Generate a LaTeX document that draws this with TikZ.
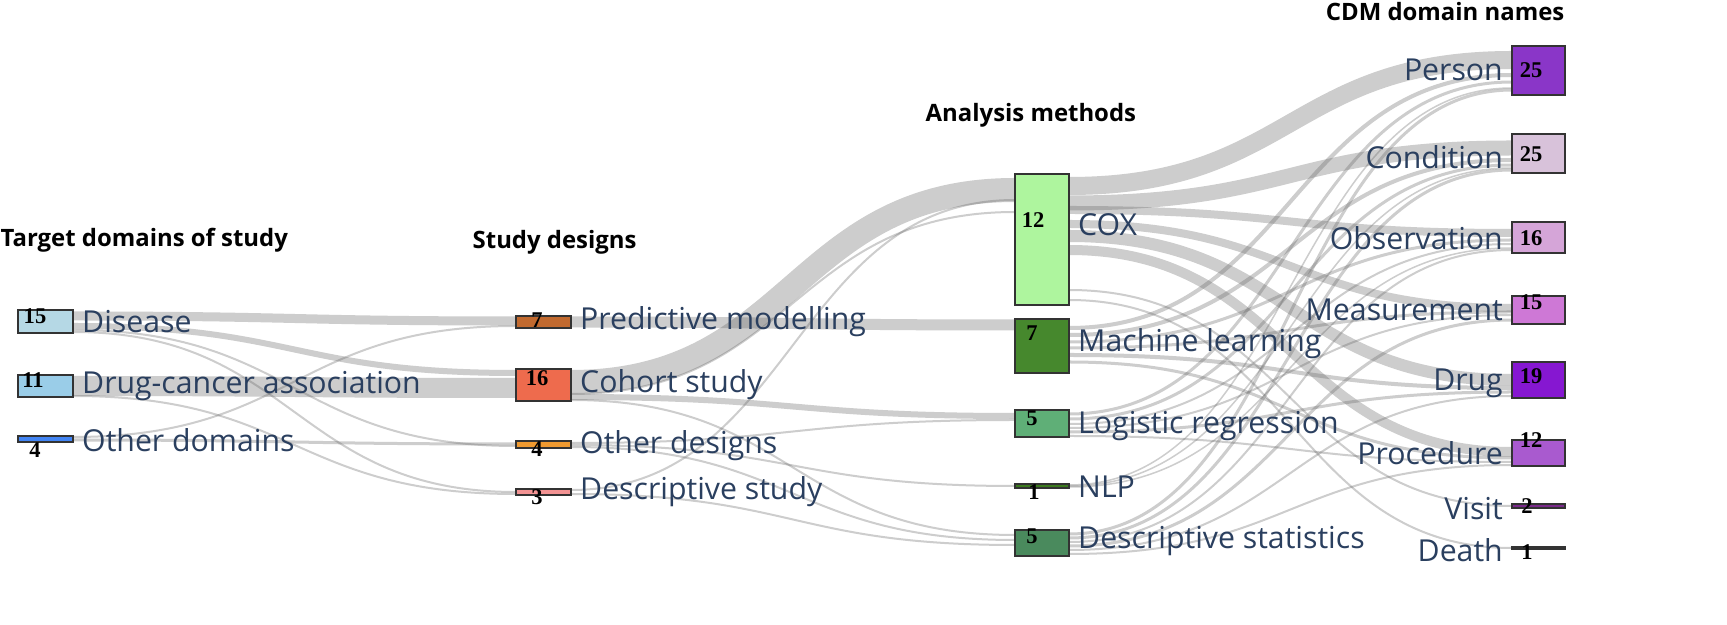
\documentclass[tikz,border=0pt]{standalone}
\usepackage{fontspec}
\setmainfont{Open Sans}
\newfontfamily\numfont{Liberation Serif}
\definecolor{labc}{HTML}{2A3F5F}
\definecolor{cDis}{HTML}{B5D8E5}
\definecolor{cDrg}{HTML}{9ACDE8}
\definecolor{cOdm}{HTML}{4285F4}
\definecolor{cPred}{HTML}{C26A2F}
\definecolor{cCoh}{HTML}{EE6B4D}
\definecolor{cOdes}{HTML}{F09A30}
\definecolor{cDst}{HTML}{F39393}
\definecolor{cCox}{HTML}{AEF59E}
\definecolor{cMl}{HTML}{46882D}
\definecolor{cLr}{HTML}{5FAF77}
\definecolor{cNlp}{HTML}{3C7A1E}
\definecolor{cDs}{HTML}{4A8A5D}
\definecolor{cPer}{HTML}{8A36C8}
\definecolor{cCon}{HTML}{D8C2DA}
\definecolor{cObs}{HTML}{D5A5D8}
\definecolor{cMea}{HTML}{CE78D6}
\definecolor{cDru}{HTML}{8617D1}
\definecolor{cPro}{HTML}{A95ACF}
\definecolor{cVis}{HTML}{7A2A8A}
\begin{document}
\begin{tikzpicture}[x=0.01cm,y=-0.01cm,
  box/.style={draw=black!80,line width=0.5pt,inner sep=0pt,outer sep=0pt,anchor=north west},
  lab/.style={text=labc,font=\fontsize{8.6}{9}\selectfont,inner sep=1pt},
  num/.style={font=\numfont\bfseries\fontsize{6.4}{7}\selectfont,inner sep=0pt},
  head/.style={font=\bfseries\fontsize{6.8}{8}\selectfont,inner sep=0pt},
  lk/.style={draw=black!60,draw opacity=0.33,line cap=butt}]
\useasboundingbox (0,0) rectangle (1727,625);
\newcommand{\lnk}[5]{\draw[lk,line width=#5*0.2845pt] (#1,#2) .. controls ({(#1+#3)/2},#2) and ({(#1+#3)/2},#4) .. (#3,#4);}
\newcommand{\bx}[6]{\node[box,fill=#2,minimum width=#5*0.01cm,minimum height=#6*0.01cm] (#1) at (#3,#4) {};}
% ---- links col1 -> col2
\lnk{73}{316}{516}{321}{9}
\lnk{73}{326}{516}{373}{6}
\lnk{73}{330}{516}{446}{2}
\lnk{73}{332}{516}{492}{2}
\lnk{73}{386}{516}{388}{20}
\lnk{73}{396}{516}{494}{2}
\lnk{73}{437}{516}{326}{2}
\lnk{73}{440}{516}{444}{3}
% ---- links col2 -> col3
\lnk{571}{322}{1015}{325}{11}
\lnk{571}{382}{1015}{190}{24}
\lnk{571}{394}{1015}{212}{2}
\lnk{571}{397}{1015}{416}{6}
\lnk{571}{400}{1015}{535}{2}
\lnk{571}{443}{1015}{420}{2}
\lnk{571}{445}{1015}{486}{2}
\lnk{571}{447}{1015}{540}{2}
\lnk{571}{490}{1015}{200}{2}
\lnk{571}{494}{1015}{545}{2}
% ---- links col3 -> col4
\lnk{1069}{186}{1512}{60}{18}
\lnk{1069}{203}{1512}{148}{15}
\lnk{1069}{210}{1512}{233}{8}
\lnk{1069}{224}{1512}{308}{8}
\lnk{1069}{236}{1512}{380}{12}
\lnk{1069}{250}{1512}{452}{10}
\lnk{1069}{290}{1512}{506}{2}
\lnk{1069}{300}{1512}{548}{2}
\lnk{1069}{328}{1512}{75}{4}
\lnk{1069}{335}{1512}{160}{4}
\lnk{1069}{342}{1512}{240}{3}
\lnk{1069}{348}{1512}{312}{3}
\lnk{1069}{355}{1512}{388}{4}
\lnk{1069}{362}{1512}{458}{3}
\lnk{1069}{414}{1512}{82}{3}
\lnk{1069}{419}{1512}{165}{3}
\lnk{1069}{424}{1512}{244}{2}
\lnk{1069}{428}{1512}{315}{2}
\lnk{1069}{432}{1512}{392}{3}
\lnk{1069}{436}{1512}{462}{2}
\lnk{1069}{485}{1512}{88}{1.5}
\lnk{1069}{486}{1512}{168}{1.5}
\lnk{1069}{487}{1512}{248}{1.5}
\lnk{1069}{534}{1512}{90}{3}
\lnk{1069}{538}{1512}{170}{3}
\lnk{1069}{542}{1512}{250}{2}
\lnk{1069}{546}{1512}{320}{3}
\lnk{1069}{550}{1512}{396}{2}
\lnk{1069}{554}{1512}{465}{2}
% ---- nodes
\bx{dis}{cDis}{18}{310}{55}{23}
\bx{drg}{cDrg}{18}{375}{55}{22}
\bx{odm}{cOdm}{18}{436}{55}{6}
\bx{pred}{cPred}{516}{316}{55}{12}
\bx{coh}{cCoh}{516}{369}{55}{32}
\bx{odes}{cOdes}{516}{441}{55}{7}
\bx{dst}{cDst}{516}{489}{55}{6}
\bx{cox}{cCox}{1015}{174}{54}{131}
\bx{ml}{cMl}{1015}{319}{54}{54}
\bx{lr}{cLr}{1015}{410}{54}{27}
\bx{nlp}{cNlp}{1015}{484}{54}{4}
\bx{ds}{cDs}{1015}{530}{54}{26}
\bx{per}{cPer}{1512}{46}{53}{49}
\bx{con}{cCon}{1512}{134}{53}{39}
\bx{obs}{cObs}{1512}{222}{53}{31}
\bx{mea}{cMea}{1512}{296}{53}{28}
\bx{dru}{cDru}{1512}{362}{53}{36}
\bx{pro}{cPro}{1512}{440}{53}{26}
\bx{vis}{cVis}{1512}{504}{53}{4}
\bx{dea}{black}{1512}{547}{53}{2}
% numbers
\node[num] at (35,316) {15};
\node[num] at (33,380) {11};
\node[num] at (35,450) {4};
\node[num] at (537,320) {7};
\node[num] at (537,378) {16};
\node[num] at (537,449) {4};
\node[num] at (537,497) {3};
\node[num] at (1033,220) {12};
\node[num] at (1032,333) {7};
\node[num] at (1032,418) {5};
\node[num] at (1034,492) {1};
\node[num] at (1032,536) {5};
\node[num] at (1531,70) {25};
\node[num] at (1531,154) {25};
\node[num] at (1531,238) {16};
\node[num] at (1531,302) {15};
\node[num] at (1531,376) {19};
\node[num] at (1531,440) {12};
\node[num] at (1527,506) {2};
\node[num] at (1527,552) {1};
% labels
\node[lab,anchor=west] at (78,322) {Disease};
\node[lab,anchor=west] at (78,386) {Drug-cancer association};
\node[lab,anchor=west] at (78,440) {Other domains};
\node[lab,anchor=west] at (576,322) {Predictive modelling};
\node[lab,anchor=west] at (576,385) {Cohort study};
\node[lab,anchor=west] at (576,446) {Other designs};
\node[lab,anchor=west] at (576,492) {Descriptive study};
\node[lab,anchor=west] at (1074,225) {COX};
\node[lab,anchor=west] at (1074,344) {Machine learning};
\node[lab,anchor=west] at (1074,426) {Logistic regression};
\node[lab,anchor=west] at (1074,487) {NLP};
\node[lab,anchor=west] at (1074,541) {Descriptive statistics};
\node[lab,anchor=east] at (1507,70) {Person};
\node[lab,anchor=east] at (1507,157) {Condition};
\node[lab,anchor=east] at (1507,238) {Observation};
\node[lab,anchor=east] at (1507,310) {Measurement};
\node[lab,anchor=east] at (1507,383) {Drug};
\node[lab,anchor=east] at (1507,453) {Procedure};
\node[lab,anchor=east] at (1507,509) {Visit};
\node[lab,anchor=east] at (1507,550) {Death};
% headers
\node[head,anchor=west] at (0,240) {Target domains of study};
\node[head,anchor=west] at (472,242) {Study designs};
\node[head,anchor=west] at (925,115) {Analysis methods};
\node[head,anchor=east] at (1565,12) {CDM domain names};
\end{tikzpicture}
\end{document}
